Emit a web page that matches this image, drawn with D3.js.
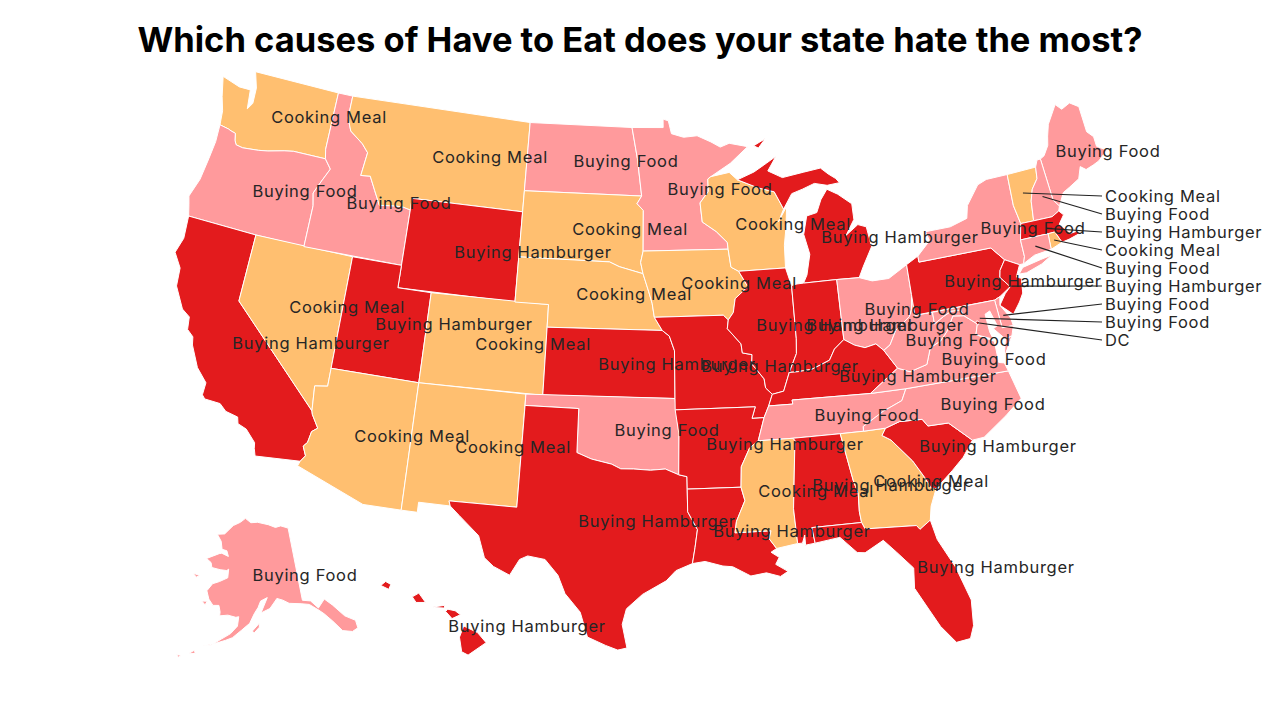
<!DOCTYPE html>
<html>
<head>
<meta charset="utf-8">
<script src="https://cdn.jsdelivr.net/npm/d3@7"></script>
<style>
  html, body { margin: 0; background: #fff; }
  text { font-family: Inter, sans-serif; }
</style>
</head>
<body>
<svg id="root" width="1280" height="720"></svg>
<script>
const states = ["WA","OR","CA","NV","ID","MT","WY","UT","AZ","CO","NM","ND","SD","NE","KS","OK","TX","MN","IA","MO","AR","LA","WI","IL","MI","IN","OH","KY","TN","MS","AL","GA","FL","SC","NC","VA","WV","PA","NY","ME","AK","HI","VT","NH","MA","RI","CT","NJ","DE","MD","DC"];
const causeNames = ["Cooking Meal","Buying Food","Buying Hamburger"];
const causeColors = ["#ffbf70","#ff9a9c","#e31b1d"];

const cookingMeal = ["WA","NV","MT","AZ","CO","NM","SD","NE","IA","WI","MS","GA","VT","RI"];
const buyingFood = ["OR","ID","ND","OK","MN","OH","TN","NC","VA","WV","NY","ME","AK","NH","CT","DE","MD"];
const buyingHamburger = ["CA","WY","UT","KS","TX","MO","AR","LA","IL","MI","IN","KY","AL","FL","SC","PA","HI","MA","NJ"];
const calloutStates = ["VT","NH","MA","RI","CT","NJ","DE","MD","DC"];

// lon,lat outlines, "|" starts another ring of the same state
const outlines = {
  WA: "-124.73,48.38 -123.5,48.14 -122.75,48.15 -122.6,47.3 -122.35,47.6 -122.4,48.3 -122.75,49 -117.03,49 -117.04,46.42 -116.92,46 -119,46 -119.6,45.92 -120.6,45.73 -121.2,45.65 -122.2,45.57 -122.65,45.62 -122.8,45.8 -122.9,46.1 -123.2,46.15 -123.4,46.2 -124,46.27 -124.1,46.9 -124.4,47.5",
  OR: "-124,46.27 -123.4,46.2 -123.2,46.15 -122.9,46.1 -122.8,45.8 -122.65,45.62 -122.2,45.57 -121.2,45.65 -120.6,45.73 -119.6,45.92 -119,46 -116.92,46 -116.47,45.6 -116.85,45 -117.2,44.4 -117.03,43.85 -117.03,42 -120,42 -124.21,42 -124.4,42.5 -124.55,42.85 -124.2,43.7 -124.05,44.7 -123.95,45.5",
  CA: "-124.21,42 -120,42 -120,39 -114.63,35 -114.57,34.85 -114.14,34.3 -114.43,34.1 -114.53,33.6 -114.72,33.4 -114.5,33 -114.72,32.72 -117.12,32.53 -117.25,32.85 -117.3,33.1 -117.9,33.6 -118.4,33.75 -118.5,34.03 -119.2,34.15 -119.6,34.42 -120.47,34.45 -120.65,34.6 -120.63,35.15 -121.3,35.7 -121.9,36.6 -122,36.95 -122.4,37.2 -122.5,37.75 -123,38 -123.7,38.9 -123.8,39.7 -124.35,40.3 -124.1,41",
  NV: "-120,42 -114.04,42 -114.04,36.2 -114.75,36.1 -114.63,35 -120,39",
  ID: "-117.03,49 -116.05,49 -116.05,48 -115.7,47.45 -114.8,47 -114.35,46.65 -114.5,45.6 -113.9,45.65 -113.45,45.05 -113,44.45 -112,44.55 -111.5,44.55 -111.05,44.48 -111.05,42 -117.03,42 -117.03,43.85 -117.2,44.4 -116.85,45 -116.47,45.6 -116.92,46 -117.04,46.42",
  MT: "-116.05,49 -104.05,49 -104.05,45 -111.05,45 -111.05,44.48 -111.5,44.55 -112,44.55 -113,44.45 -113.45,45.05 -113.9,45.65 -114.5,45.6 -114.35,46.65 -114.8,47 -115.7,47.45 -116.05,48",
  WY: "-111.05,45 -104.05,45 -104.05,41 -111.05,41",
  UT: "-114.04,42 -111.05,42 -111.05,41 -109.05,41 -109.05,37 -114.04,37",
  AZ: "-114.04,37 -109.05,37 -109.05,31.33 -111.07,31.33 -114.81,32.5 -114.72,32.72 -114.5,33 -114.72,33.4 -114.53,33.6 -114.43,34.1 -114.14,34.3 -114.57,34.85 -114.63,35 -114.75,36.1 -114.04,36.2",
  CO: "-109.05,41 -102.05,41 -102.05,37 -109.05,37",
  NM: "-109.05,37 -103,37 -103.04,32 -106.62,32 -106.53,31.78 -108.2,31.78 -108.2,31.33 -109.05,31.33",
  ND: "-104.05,49 -97.23,49 -96.85,47.6 -96.56,45.94 -104.05,45.94",
  SD: "-104.05,45.94 -96.56,45.94 -96.85,45.6 -96.45,45.3 -96.45,43.5 -96.6,43 -96.45,42.5 -97.9,42.8 -98.5,43 -104.05,43",
  NE: "-104.05,43 -98.5,43 -97.9,42.8 -96.45,42.5 -96.1,41.7 -95.9,41.2 -95.77,40.58 -95.31,40 -102.05,40 -102.05,41 -104.05,41",
  KS: "-102.05,40 -95.31,40 -94.9,39.75 -94.61,39.1 -94.62,37 -102.05,37",
  OK: "-103,37 -94.62,37 -94.43,35.4 -94.48,33.64 -95.2,33.9 -96,33.85 -96.9,33.9 -97.6,33.9 -98.1,34.1 -99.2,34.3 -100,34.56 -100,36.5 -103,36.5",
  TX: "-103,36.5 -100,36.5 -100,34.56 -99.2,34.3 -98.1,34.1 -97.6,33.9 -96.9,33.9 -96,33.85 -95.2,33.9 -94.48,33.64 -94.04,33.55 -94.04,33 -94.04,32 -93.55,31.2 -93.7,30.4 -93.85,29.7 -94.7,29.4 -95.2,28.95 -96.4,28.35 -97.2,27.7 -97.4,27 -97.15,25.95 -97.6,25.85 -98.2,26.05 -99.1,26.4 -99.5,27.5 -100.3,28.3 -100.7,29.1 -101.4,29.77 -102.3,29.88 -102.7,29.7 -103.15,28.97 -104,29.3 -104.5,29.65 -104.9,30.6 -106,31.4 -106.53,31.78 -106.62,32 -103.04,32",
  MN: "-97.23,49 -95.15,49 -95.15,49.38 -94.8,49.3 -94.6,48.72 -93.8,48.55 -92.9,48.6 -92,48.3 -91.4,48.05 -90.8,48.2 -89.6,48 -90.8,47.3 -92.1,46.75 -92.3,46.65 -92.3,46.1 -92.85,45.6 -92.75,44.75 -91.9,44.3 -91.25,43.8 -91.22,43.5 -96.45,43.5 -96.45,45.3 -96.85,45.6 -96.56,45.94 -96.85,47.6",
  IA: "-96.45,43.5 -91.22,43.5 -91.1,42.7 -90.65,42.5 -90.15,41.8 -90.95,41.3 -91.1,40.7 -91.42,40.38 -91.7,40.6 -95.77,40.58 -95.9,41.2 -96.1,41.7 -96.45,42.5 -96.6,43",
  MO: "-95.77,40.58 -91.7,40.6 -91.42,40.38 -91.5,40 -90.75,39.3 -90.7,38.9 -90.15,38.8 -90.2,38.4 -89.55,37.7 -89.5,37.3 -89.15,37 -89.4,36.5 -89.7,36 -90.37,36 -90.15,36.5 -94.62,36.5 -94.62,37 -94.61,39.1 -94.9,39.75 -95.31,40",
  AR: "-94.62,36.5 -90.15,36.5 -90.37,36 -89.7,36 -90.1,35 -90.6,34.7 -91.1,33.9 -91.17,33 -94.04,33 -94.04,33.55 -94.48,33.64 -94.43,35.4",
  LA: "-94.04,33 -91.17,33 -91,32.4 -91.5,31.5 -91.6,31 -89.73,31 -89.85,30.65 -89.5,30.2 -89.8,30.05 -89.4,29.8 -89.6,29.5 -89,29.15 -89.4,28.95 -90.1,29.15 -90.9,29.05 -91.8,29.5 -92.3,29.55 -93.2,29.78 -93.85,29.7 -93.7,30.4 -93.55,31.2 -94.04,32",
  WI: "-92.1,46.75 -90.9,46.9 -90.4,46.55 -89.1,46.13 -88.1,45.9 -87.6,45.1 -88,44.55 -87.4,45.2 -87.55,44.3 -87.75,43.5 -87.8,42.5 -90.65,42.5 -91.1,42.7 -91.22,43.5 -91.25,43.8 -91.9,44.3 -92.75,44.75 -92.85,45.6 -92.3,46.1 -92.3,46.65",
  IL: "-91.42,40.38 -91.1,40.7 -90.95,41.3 -90.15,41.8 -90.65,42.5 -87.8,42.5 -87.6,41.9 -87.53,41.7 -87.53,39.35 -87.6,38.7 -88.1,37.9 -88.5,37.1 -89.15,37 -89.5,37.3 -89.55,37.7 -90.2,38.4 -90.15,38.8 -90.7,38.9 -90.75,39.3 -91.5,40",
  MI: "-86.8,41.76 -84.8,41.76 -83.45,41.72 -83.1,42.2 -82.45,43 -82.6,43.9 -83.1,44.05 -83.9,43.65 -83.3,44.3 -83.3,45 -84.1,45.5 -84.75,45.78 -85.2,45.35 -85.55,44.8 -86.2,44.7 -86.5,43.9 -86.25,43 -86.55,42.1|-90.4,46.55 -89.3,46.85 -88.45,47.2 -87.8,47.47 -88.4,46.85 -87.5,46.5 -86.1,46.65 -85,46.75 -84.55,46.45 -84.1,46.2 -83.9,46 -84.7,45.95 -85.5,46.1 -86.3,45.9 -87,45.75 -87.6,45.1 -88.1,45.9 -89.1,46.13|-89.2,48.02 -88.4,48.3 -88.9,47.9",
  IN: "-87.53,41.7 -87.2,41.75 -86.8,41.76 -84.8,41.76 -84.8,39.1 -85.4,38.73 -85.75,38.27 -86.3,38.1 -86.8,37.95 -87.6,37.9 -88.1,37.9 -87.6,38.7 -87.53,39.35",
  OH: "-84.8,41.76 -83.45,41.72 -82.7,41.5 -81.7,41.5 -80.52,41.98 -80.52,40.64 -80.65,40 -80.85,39.7 -81.75,39.2 -82.2,38.6 -82.6,38.4 -83,38.73 -83.65,38.63 -84.23,38.8 -84.8,39.1",
  KY: "-89.4,36.5 -89.15,37 -88.5,37.1 -88.1,37.9 -87.6,37.9 -86.8,37.95 -86.3,38.1 -85.75,38.27 -85.4,38.73 -84.8,39.1 -84.23,38.8 -83.65,38.63 -83,38.73 -82.6,38.4 -81.97,37.54 -83.68,36.6 -88.07,36.68 -88.05,36.5",
  TN: "-90.1,35 -89.7,36 -89.4,36.5 -88.05,36.5 -88.07,36.68 -83.68,36.6 -81.68,36.59 -82,36.1 -83.1,35.75 -84.3,35.2 -84.32,34.99 -85.6,35 -88.2,35",
  MS: "-91.17,33 -91.1,33.9 -90.6,34.7 -90.1,35 -88.2,35 -88.1,34.9 -88.47,31.9 -88.4,30.35 -89.5,30.2 -89.85,30.65 -89.73,31 -91.6,31 -91.5,31.5 -91,32.4",
  AL: "-88.2,35 -85.6,35 -85.18,32.87 -85,32.3 -85.05,31.5 -85,31 -87.6,31 -87.5,30.3 -88,30.25 -88,30.7 -88.15,30.35 -88.4,30.35 -88.47,31.9 -88.1,34.9",
  GA: "-85.6,35 -84.32,34.99 -83.1,35 -83.35,34.7 -82.9,34.45 -81.9,33.4 -81.4,32.6 -81.15,32.1 -80.9,32.03 -81.3,31.3 -81.45,30.7 -82.05,30.36 -82.2,30.55 -84.86,30.7 -85,31 -85.05,31.5 -85,32.3 -85.18,32.87",
  FL: "-87.6,31 -85,31 -84.86,30.7 -82.2,30.55 -82.05,30.36 -81.45,30.7 -81.25,29.8 -80.55,28.45 -80.05,26.9 -80.15,25.75 -80.4,25.2 -81.1,25.13 -81.75,25.95 -82.15,26.7 -82.75,27.8 -82.65,28.7 -83.4,29.5 -84,30.1 -85,29.65 -85.4,29.7 -86.2,30.45 -87.5,30.3",
  SC: "-83.35,34.7 -83.1,35 -82.3,35.2 -81.05,35.15 -80.8,34.82 -79.67,34.8 -78.55,33.87 -79.2,33.2 -79.9,32.7 -80.9,32.03 -81.15,32.1 -81.4,32.6 -81.9,33.4 -82.9,34.45",
  NC: "-84.32,34.99 -84.3,35.2 -83.1,35.75 -82,36.1 -81.68,36.59 -75.87,36.55 -75.5,35.25 -76.5,34.65 -77.9,33.9 -78.55,33.87 -79.67,34.8 -80.8,34.82 -81.05,35.15 -82.3,35.2 -83.1,35",
  VA: "-83.68,36.6 -81.97,37.54 -81.3,37.3 -80.3,37.5 -79.95,38.2 -79.3,38.42 -78.87,38.76 -78.35,39.4 -77.72,39.32 -77.05,38.85 -77.25,38.4 -76.3,37.95 -76.3,37 -76,36.93 -75.87,36.55 -81.68,36.59|-75.95,37.15 -75.25,38.03 -75.65,37.95",
  WV: "-82.6,38.4 -82.2,38.6 -81.75,39.2 -80.85,39.7 -80.65,40 -80.52,40.64 -80.52,39.72 -79.48,39.72 -79.48,39.2 -78.9,39.45 -78.4,39.62 -77.85,39.6 -77.72,39.32 -78.35,39.4 -78.87,38.76 -79.3,38.42 -79.95,38.2 -80.3,37.5 -81.3,37.3 -81.97,37.54",
  MD: "-79.48,39.72 -75.79,39.72 -75.7,38.46 -75.05,38.45 -75.25,38.03 -75.65,37.95 -76.2,38.5 -75.95,38.6 -76.2,39.3 -76.5,39.2 -76.45,38.4 -76.33,38.05 -77.25,38.4 -77.05,38.85 -77.72,39.32 -77.85,39.6 -78.4,39.62 -78.9,39.45 -79.48,39.2",
  DE: "-75.79,39.72 -75.45,39.82 -75.55,39.45 -75.1,38.8 -75.05,38.45 -75.7,38.46",
  PA: "-80.52,41.98 -79.76,42.27 -79.76,42 -75.35,42 -74.7,41.36 -75.1,40.95 -75.2,40.65 -74.73,40.15 -75.45,39.82 -75.79,39.72 -80.52,39.72 -80.52,40.64",
  NJ: "-74.7,41.36 -73.9,41 -74.25,40.5 -73.98,40.4 -74.1,39.75 -74.4,39.4 -74.9,38.93 -75.55,39.45 -75.1,39.9 -74.73,40.15 -75.2,40.65 -75.1,40.95",
  NY: "-79.76,42.27 -78.9,42.85 -79.05,43.27 -77.5,43.28 -76.4,43.5 -76.2,44.05 -75.3,44.85 -74.7,45 -73.35,45 -73.43,43.6 -73.25,42.75 -73.5,42.05 -73.5,41.3 -73.65,41 -73.9,41 -74.7,41.36 -75.35,42 -79.76,42|-74.05,40.6 -73.75,40.85 -72.6,41 -71.9,41.07 -72.6,40.8 -73.6,40.58",
  VT: "-73.35,45 -71.5,45.01 -71.6,44.5 -72.05,44.1 -72.3,43.6 -72.45,42.73 -73.25,42.75 -73.43,43.6",
  NH: "-71.5,45.01 -71.3,45.3 -71.08,45.3 -70.98,43.4 -70.7,43.07 -70.82,42.87 -71.3,42.7 -72.45,42.73 -72.3,43.6 -72.05,44.1 -71.6,44.5",
  ME: "-71.08,45.3 -70.8,45.4 -70.4,45.8 -70.25,46.2 -70,46.7 -69.23,47.46 -68.9,47.18 -68.3,47.35 -67.79,47.07 -67.78,45.9 -67.45,45.6 -67.45,45.15 -66.9,44.85 -67.6,44.5 -68,44.4 -68.5,44.3 -68.8,44.5 -69.1,44 -69.8,43.75 -70.25,43.6 -70.7,43.07 -70.98,43.4",
  MA: "-73.5,42.05 -73.25,42.75 -72.45,42.73 -71.3,42.7 -70.82,42.87 -70.6,42.65 -71,42.3 -70.65,41.95 -70.5,41.78 -70,41.8 -70.25,42.07 -69.95,41.67 -70.65,41.55 -71.12,41.5 -71.38,42.02 -71.8,42.02",
  RI: "-71.8,42.02 -71.38,42.02 -71.12,41.5 -71.85,41.32",
  CT: "-73.5,42.05 -71.8,42.02 -71.85,41.32 -72.9,41.25 -73.65,41 -73.5,41.3",
  DC: "-77.12,38.93 -77.04,39 -76.91,38.89 -77.04,38.79",
  AK: "-141,69.65 -143.5,70.1 -145.5,70 -148,70.45 -152,70.85 -154.5,70.8 -156.6,71.35 -158.5,70.8 -161,70.3 -163.7,69.1 -166.2,68.9 -164.5,68.1 -163.8,67.1 -162.2,67 -161.5,66.3 -163.7,66.6 -164.5,66.5 -168.1,65.6 -166.5,65.2 -166,64.6 -163.5,64.5 -161.5,64.5 -161,64.7 -161,63.6 -163.2,63 -165,62.6 -166.2,61.6 -165.3,60.6 -164,59.9 -162.5,60 -162,59.2 -162,58.7 -160,58.9 -158,58.7 -157.3,58.8 -157.5,57.6 -159,56.6 -161,55.8 -163,54.9 -164.9,54.6 -162.5,55.1 -160,55.7 -158.5,56.1 -156.5,57.1 -154.6,58 -153.5,59.2 -152.5,60 -151.8,60.8 -150,61.2 -151.8,59.3 -149.5,59.8 -148,60.7 -147.5,61 -146,60.7 -144.5,60.2 -141.5,59.9 -139.5,59.6 -137.5,58.6 -136.5,58 -135,56.8 -133.5,55.3 -131.5,54.8 -130.1,55 -130,56 -132,57 -134,58.8 -135.5,59.8 -137.5,58.9 -139,60 -141,60.3|-154,57 -152.3,58 -152.3,57.5 -153.5,56.8|-171,63.4 -169,63.3 -169.8,63|-166.5,53.9 -167.5,53.4 -166.2,53.5|-170,52.9 -169,52.9 -169.5,52.6|-167,60.2 -165.6,60.3 -166,59.8",
  HI: "-156.05,19.75 -155.85,20.25 -155.2,19.95 -154.8,19.5 -155.65,18.95 -155.95,19.1|-156.7,20.9 -156.6,21 -156.25,20.93 -156,20.75 -156.4,20.58|-157.3,21.1 -156.75,21.17 -156.75,21.05 -157.3,21.08|-158.28,21.55 -157.97,21.72 -157.65,21.3 -158.1,21.3|-159.78,22.05 -159.55,22.23 -159.3,22.1 -159.4,21.88"
};

function causeOf(st) {
  if (cookingMeal.includes(st)) return causeNames[0];
  if (buyingFood.includes(st)) return causeNames[1];
  return causeNames[2];
}

// turn a "lon,lat lon,lat" string into a feature, rings wound the way d3-geo wants
function toFeature(st) {
  const rings = outlines[st].split("|").map((part) => {
    const ring = part.split(" ").map((p) => p.split(",").map(Number));
    ring.push(ring[0]);
    const area = d3.geoArea({ type: "Polygon", coordinates: [ring] });
    return area > 2 * Math.PI ? ring.reverse() : ring;
  });
  return {
    type: "Feature",
    properties: { st: st, cause: causeOf(st) },
    geometry: { type: "MultiPolygon", coordinates: rings.map((r) => [r]) }
  };
}

const features = states.map(toFeature);

const projection = d3.geoAlbersUsa().scale(1290).translate([640, 360]);
const path = d3.geoPath(projection);
const color = d3.scaleOrdinal().domain(causeNames).range(causeColors);

const svg = d3.select("#root");

svg.append("text")
  .attr("x", 640)
  .attr("y", 52)
  .attr("text-anchor", "middle")
  .style("font-size", "34.5px")
  .style("font-weight", 700)
  .style("fill", "#000")
  .text("Which causes of Have to Eat does your state hate the most?");

svg.append("g")
  .selectAll("path")
  .data(features)
  .enter()
  .append("path")
  .attr("d", path)
  .attr("fill", (d) => color(d.properties.cause))
  .attr("stroke", "#fff")
  .attr("stroke-width", 1);

// hand placed label spots, same as the overlaps in the original
const labelSpots = {
  WA:[329,117], OR:[305,191], CA:[311,343], NV:[347,307], ID:[399,203], MT:[490,157], WY:[533,252], UT:[454,324],
  AZ:[412,436], CO:[533,344], NM:[513,447], ND:[626,161], SD:[630,229], NE:[634,294], KS:[677,364], OK:[667,430],
  TX:[657,521], MN:[720,189], IA:[739,283], MO:[780,366], AR:[785,444], LA:[792,531], WI:[793,224], IL:[835,325],
  MI:[900,237], IN:[885,325], OH:[917,309], KY:[918,376], TN:[867,415], MS:[816,491], AL:[891,485], GA:[931,481],
  FL:[996,567], SC:[998,446], NC:[993,404], VA:[994,359], WV:[958,340], PA:[1023,281], NY:[1033,228], ME:[1108,151],
  AK:[305,575], HI:[527,626]
};

const labelFont = { size: "16.5px", spacing: "0.7px", fill: "#262626" };

svg.append("g")
  .selectAll("text")
  .data(features.filter((d) => labelSpots[d.properties.st]))
  .enter()
  .append("text")
  .attr("x", (d) => labelSpots[d.properties.st][0])
  .attr("y", (d) => labelSpots[d.properties.st][1])
  .attr("dy", "0.35em")
  .attr("text-anchor", "middle")
  .style("font-size", labelFont.size)
  .style("letter-spacing", labelFont.spacing)
  .style("fill", labelFont.fill)
  .text((d) => d.properties.cause);

// small states get a leader line out to a column on the right
const calloutY = d3.scalePoint().domain(calloutStates).range([196, 340]);
const callouts = svg.append("g")
  .selectAll("g")
  .data(calloutStates)
  .enter()
  .append("g");

callouts.append("line")
  .attr("x1", (st) => path.centroid(features[states.indexOf(st)])[0])
  .attr("y1", (st) => path.centroid(features[states.indexOf(st)])[1])
  .attr("x2", 1102)
  .attr("y2", (st) => calloutY(st))
  .attr("stroke", "#222")
  .attr("stroke-width", 1.2);

callouts.append("text")
  .attr("x", 1105)
  .attr("y", (st) => calloutY(st))
  .attr("dy", "0.35em")
  .style("font-size", labelFont.size)
  .style("letter-spacing", labelFont.spacing)
  .style("fill", labelFont.fill)
  .text((st) => (st === "DC" ? "DC" : causeOf(st)));
</script>
</body>
</html>
